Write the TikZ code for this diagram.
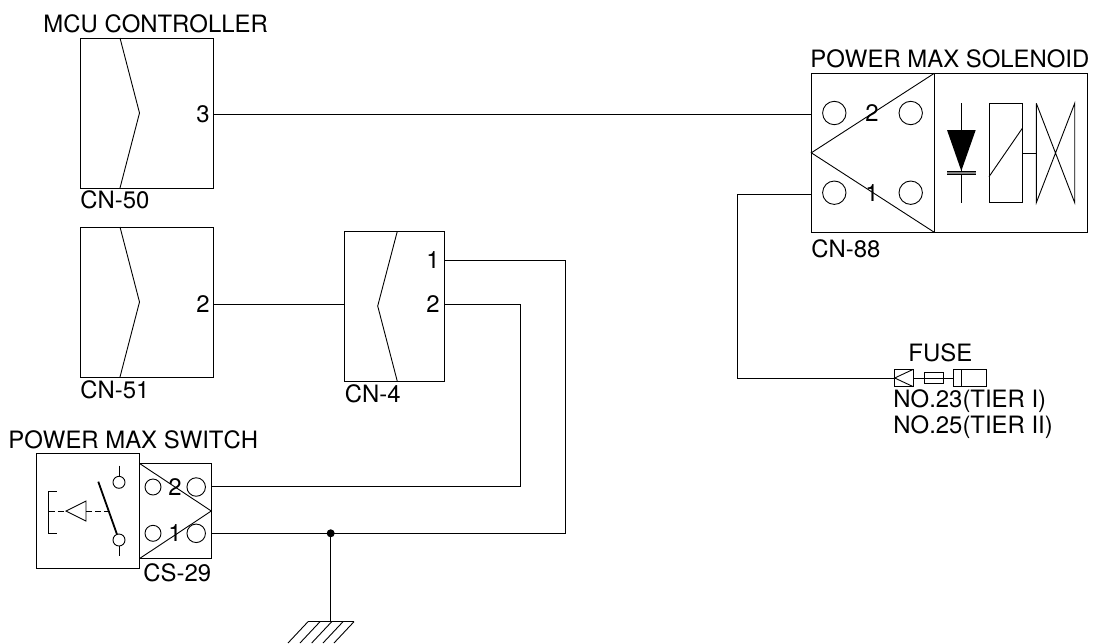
\documentclass[tikz,border=0pt]{standalone}
\usepackage{fontspec}
\setmainfont[Kerning=Off]{TeX Gyre Heros}

\tikzset{
	housing/.style={draw,inner sep=0pt,outer sep=0pt},
	pinhole/.style={draw,circle,inner sep=0pt,outer sep=0pt},
	pinno/.style={inner sep=0pt,anchor=center},
	caption/.style={inner sep=0pt,anchor=base west},
}

\begin{document}
\begin{tikzpicture}[x=1pt,y=-1pt,line width=0.9pt]
\tikzstyle{every node}=[font=\fontsize{23.9}{28}\selectfont]
\useasboundingbox (0,0) rectangle (1094,643);

% connector housings
\node[housing,minimum width=132.5pt,minimum height=150pt] (cn50) at (146.75,113) {};
\node[housing,minimum width=132.5pt,minimum height=150pt] (cn51) at (146.75,302) {};
\node[housing,minimum width=100.3pt,minimum height=150pt] (cn4) at (394.2,306.3) {};
\node[housing,minimum width=123pt,minimum height=159pt] (cn88) at (872.8,152.8) {};
\node[housing,minimum width=153pt,minimum height=159pt] (solenoid) at (1010.8,152.8) {};
\node[housing,minimum width=102.6pt,minimum height=115pt] (switch) at (88,510.8) {};
\node[housing,minimum width=72pt,minimum height=95.4pt] (cs29) at (175.3,511) {};

\draw (120,38) -- (139.5,113) -- (120,188);
\draw (120,227) -- (139.5,302) -- (120,377);
\draw (397.3,231.3) -- (377.7,306) -- (397.3,381.3);
\draw (cn88.north east) -- (cn88.west) -- (cn88.south east);
\draw (cs29.north west) -- (cs29.east) -- (cs29.south west);

% pin holes
\foreach \x/\y/\n in {834.3/113/a,910.7/113/b,834.3/192.7/c,910.7/192.7/d}
	\node[pinhole,minimum size=23.4pt] (hole\n) at (\x,\y) {};
\foreach \x/\y/\n in {153/487/e,153/533.3/g}
	\node[pinhole,minimum size=16pt] (hole\n) at (\x,\y) {};
\foreach \x/\y/\n in {196.2/487/f,196.2/533.3/h}
	\node[pinhole,minimum size=18.5pt] (hole\n) at (\x,\y) {};

% pin numbers
\node[pinno] (no3) at (203,114) {3};
\node[pinno] (no2a) at (203,304) {2};
\node[pinno] (no1b) at (433,260) {1};
\node[pinno] (no2b) at (433,304) {2};
\node[pinno] (no2c) at (872,113) {2};
\node[pinno] (no1c) at (872,192.7) {1};
\node[pinno] (no2d) at (175,487) {2};
\node[pinno] (no1d) at (175,533.3) {1};

% captions
\node[caption] (mcu) at (43,32) {MCU CONTROLLER};
\node[caption] (lab50) at (80,208) {CN-50};
\node[caption] (lab51) at (80,398) {CN-51};
\node[caption] (lab4) at (344.5,402.7) {CN-4};
\node[caption] (sol) at (810,67.5) {POWER MAX SOLENOID};
\node[caption] (lab88) at (811,257.7) {CN-88};
\node[caption] (swi) at (8,448.5) {POWER MAX SWITCH};
\node[caption] (lab29) at (143,581.7) {CS-29};
\node[caption] (fuse) at (908,361) {FUSE};
\node[caption] (tier1) at (893,407) {NO.23(TIER I)};
\node[caption] (tier2) at (893,433) {NO.25(TIER II)};

% solenoid symbols
\draw (961.3,103.3) -- (961.3,202.7);
\fill (947,130) -- (975.7,130) -- (961.3,171) -- cycle;
\draw[line width=1pt] (947,171.6) -- (975.7,171.6) (947,174.2) -- (975.7,174.2);
\draw[gray,line width=1.4pt] (947,172.9) -- (975.7,172.9);
\node[housing,minimum width=33.3pt,minimum height=99.4pt] (coil) at (1005.65,153) {};
\draw (coil.south west |- 0,176.7) -- (coil.north east |- 0,128.3);
\coordinate (core) at (1036.3,153);
\draw (coil.east |- core) -- (core);
\draw (1036.3,103.3) -- (1036.3,202.7) -- (1074.7,103.3) -- (1074.7,202.7) -- (1036.3,103.3);

% switch symbols
\draw (56.7,491.7) -- (48.7,491.7) -- (48.7,533) -- (56.7,533);
\draw[dashed,dash pattern=on 6pt off 3pt] (48.7,511) -- (66,511);
\draw[dashed,dash pattern=on 6pt off 3pt] (86,511) -- (110,511);
\draw (66,511) -- (86,501) -- (86,521) -- cycle;
\node[pinhole,minimum size=12pt] (upper) at (119,482.3) {};
\node[pinhole,minimum size=12pt] (lower) at (119,540) {};
\draw[line width=1.8pt] (98.3,481.7) -- (lower);
\draw (119,465.7) -- (upper);
\draw (lower) -- (119,556.3);

% fuse
\node[housing,minimum width=18.6pt,minimum height=17.4pt] (plug) at (904,378) {};
\node[housing,minimum width=19pt,minimum height=11.3pt] (link) at (933.8,378) {};
\node[housing,minimum width=33.4pt,minimum height=17.4pt] (holder) at (970,378) {};
\draw (plug.north east) -- (plug.west) -- (plug.south east);
\draw (link.west) -- (link.east);
\draw (961.3,369.3) -- (961.3,386.7);
\draw (plug.east) -- (link.west);
\draw (link.east) -- (holder.west);

% wiring
\coordinate (sol2) at (811.3,114);
\coordinate (sol1) at (811.3,194);
\coordinate (mcu3) at (213,114);
\coordinate (c51) at (213,304.3);
\coordinate (c4in) at (344,304.3);
\coordinate (c41) at (444.3,260.3);
\coordinate (c42) at (444.3,304.3);
\coordinate (sw2) at (211.3,486.3);
\coordinate (sw1) at (211.3,533.3);
\coordinate (dot) at (330.7,533.3);
\coordinate (earth) at (330.7,621.7);
\draw (mcu3) -- (sol2);
\draw (c51) -- (c4in);
\draw (c41) -- (565.7,260.3) -- (565.7,533.3) -- (sw1);
\draw (c42) -- (520.3,304.3) -- (520.3,486.3) -- (sw2);
\draw (sol1) -- (737,194) -- (737,378) -- (plug.west);
\fill (dot) circle (4);
\draw (dot) -- (earth);
\draw (308,621.7) -- (354,621.7);
\foreach \x in {308,320,331.7,343,354}
	\draw (\x,621.7) -- ++(-20,21.3);

\end{tikzpicture}
\end{document}
